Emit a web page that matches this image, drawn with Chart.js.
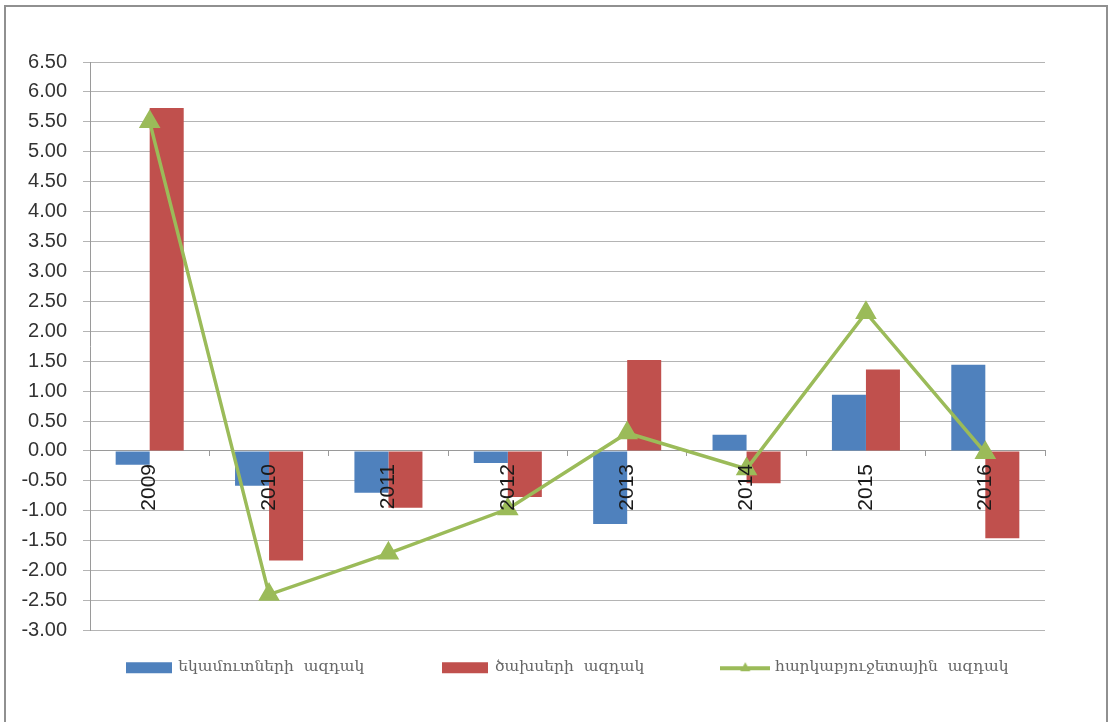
<!DOCTYPE html>
<html><head><meta charset="utf-8">
<script src="https://cdn.jsdelivr.net/npm/chart.js@4.4.1/dist/chart.umd.min.js"></script>
<style>
html,body{margin:0;padding:0;background:#fff;}
#frame{position:absolute;left:4px;top:5px;width:1104px;height:730px;border:2px solid #909090;box-sizing:border-box;}
#wrap{position:absolute;left:0;top:0;width:1109px;height:722px;}
</style></head>
<body>
<div id="frame"></div>
<div id="wrap"><canvas id="c" width="1109" height="722"></canvas></div>
<script>
const years = ['2009','2010','2011','2012','2013','2014','2015','2016'];
const incomeImpulse = [-0.23, -0.58, -0.70, -0.20, -1.22, 0.27, 0.94, 1.44];
const expenseImpulse = [5.73, -1.83, -0.95, -0.77, 1.52, -0.54, 1.36, -1.46];
const fiscalImpulse = [5.50, -2.40, -1.71, -0.97, 0.30, -0.30, 2.31, -0.03];
const seriesNames = ['եկամուտների  ազդակ', 'ծախսերի  ազդակ', 'հարկաբյուջետային  ազդակ'];
const yMin = -3, yMax = 6.5, yStep = 0.5;

const BLUE = '#4F81BD', RED = '#C0504D', GREEN = '#9BBB59';

function boxImg(color){
  const c = document.createElement('canvas'); c.width = 46; c.height = 18;
  const g = c.getContext('2d'); g.fillStyle = color; g.fillRect(0, 4, 46, 11); return c;
}
function lineImg(color){
  const c = document.createElement('canvas'); c.width = 50; c.height = 18;
  const g = c.getContext('2d'); g.strokeStyle = color; g.lineWidth = 4;
  g.beginPath(); g.moveTo(0, 10); g.lineTo(50, 10); g.stroke();
  g.fillStyle = color; g.beginPath(); g.moveTo(25, 4); g.lineTo(30, 13); g.lineTo(20, 13); g.closePath(); g.fill();
  return c;
}
const legendImgs = [boxImg(BLUE), boxImg(RED), lineImg(GREEN)];
const gaps = ['              ', '              ', ''];

new Chart(document.getElementById('c'), {
  data: {
    labels: years,
    datasets: [
      { type: 'bar', label: seriesNames[0], data: incomeImpulse, backgroundColor: BLUE, order: 2,
        barPercentage: 1.0, categoryPercentage: 0.57 },
      { type: 'bar', label: seriesNames[1], data: expenseImpulse, backgroundColor: RED, order: 2,
        barPercentage: 1.0, categoryPercentage: 0.57 },
      { type: 'line', label: seriesNames[2], data: fiscalImpulse, borderColor: GREEN, backgroundColor: GREEN,
        borderWidth: 3.5, tension: 0, pointStyle: 'triangle', pointRadius: 9, pointHoverRadius: 9,
        pointBackgroundColor: GREEN, pointBorderColor: GREEN, order: 0 }
    ]
  },
  options: {
    responsive: false, animation: false,
    layout: { padding: { left: 10, right: 64, top: 62, bottom: 37 } },
    scales: {
      x: {
        position: { y: 0 },
        grid: { display: true, drawOnChartArea: false, drawTicks: true, tickLength: 5, color: '#9a9a9a', offset: true },
        border: { display: true, color: '#9a9a9a', width: 1 },
        ticks: { z: 1, minRotation: 90, maxRotation: 90, color: '#1a1a1a', padding: 8,
                 font: { family: 'Liberation Sans, Arial, sans-serif', size: 21 } }
      },
      y: {
        min: yMin, max: yMax,
        afterFit: (s) => { s.width = 80; },
        grid: { color: '#b4b4b4', lineWidth: 1, tickLength: 7, drawTicks: true },
        border: { display: true, color: '#9a9a9a' },
        ticks: { stepSize: yStep, color: '#333', padding: 16,
                 font: { family: 'Liberation Sans, Arial, sans-serif', size: 20 },
                 callback: (v) => Number(v).toFixed(2) }
      }
    },
    plugins: {
      tooltip: { enabled: false },
      legend: {
        position: 'bottom', fullSize: false,
        title: { display: true, text: ' ', padding: { top: 7, bottom: 0 }, font: { size: 10 } },
        labels: {
          usePointStyle: true, pointStyleWidth: 44, padding: 10, color: '#1e1e1e',
          font: { family: 'DejaVu Serif, serif', size: 15.5 },
          generateLabels: (chart) => chart.data.datasets.map((d, i) => ({
            text: d.label + gaps[i], pointStyle: legendImgs[i], datasetIndex: i,
            fillStyle: 'transparent', strokeStyle: 'transparent', lineWidth: 0, hidden: false
          }))
        }
      }
    }
  }
});
</script>
</body></html>
